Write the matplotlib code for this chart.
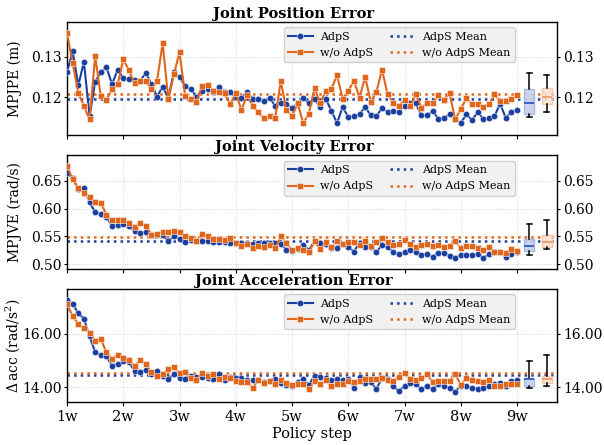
#!/usr/bin/env python3

import matplotlib
matplotlib.use("Agg")
import matplotlib.pyplot as plt
import numpy as np

plt.rcParams['font.family'] = ['DejaVu Serif']
plt.rcParams['mathtext.fontset'] = 'dejavuserif'

# policy steps, 1w .. 9w in steps of 0.1w
steps = np.round(np.arange(1.0, 9.0001, 0.1), 1)
xtick_vals = [1, 2, 3, 4, 5, 6, 7, 8, 9]
xtick_labels = ["1w", "2w", "3w", "4w", "5w", "6w", "7w", "8w", "9w"]

# joint position error (m)
pos_adps = [.1262, .1313, .1229, .1287, .1154, .1238, .1262, .1274, .1232, .1268,
            .1247, .1245, .1242, .1240, .1260, .1232, .1202, .1226, .1198, .1262,
            .1250, .1228, .1220, .1202, .1216, .1220, .1214, .1226, .1214, .1212,
            .1200, .1198, .1214, .1196, .1196, .1190, .1198, .1180, .1186, .1183,
            .1174, .1184, .1198, .1186, .1196, .1176, .1196, .1167, .1137, .1176,
            .1152, .1154, .1159, .1176, .1156, .1154, .1174, .1164, .1166, .1165,
            .1180, .1187, .1185, .1156, .1156, .1166, .1148, .1150, .1158, .1147,
            .1137, .1158, .1144, .1164, .1147, .1150, .1154, .1184, .1150, .1164,
            .1170]
pos_wo = [.1358, .1283, .1211, .1179, .1146, .1301, .1203, .1193, .1220, .1232,
          .1293, .1266, .1234, .1241, .1240, .1220, .1240, .1333, .1195, .1256,
          .1311, .1203, .1195, .1189, .1227, .1230, .1216, .1214, .1210, .1183,
          .1210, .1169, .1205, .1179, .1163, .1149, .1154, .1149, .1240, .1169,
          .1154, .1185, .1137, .1160, .1224, .1185, .1215, .1221, .1254, .1197,
          .1215, .1241, .1199, .1250, .1189, .1213, .1268, .1207, .1187, .1180,
          .1193, .1180, .1207, .1175, .1185, .1187, .1205, .1193, .1211, .1146,
          .1171, .1198, .1183, .1183, .1177, .1183, .1207, .1190, .1191, .1195,
          .1205]

# joint velocity error (rad/s)
vel_adps = [.6640, .6542, .6355, .6373, .6114, .5935, .5895, .5850, .5693, .5711,
            .5723, .5693, .5590, .5560, .5578, .5530, .5530, .5518, .5422, .5500,
            .5458, .5398, .5440, .5410, .5422, .5410, .5392, .5398, .5392, .5380,
            .5380, .5385, .5390, .5370, .5385, .5375, .5380, .5385, .5370, .5255,
            .5247, .5277, .5350, .5259, .5410, .5380, .5361, .5301, .5301, .5373,
            .5319, .5229, .5386, .5319, .5319, .5217, .5350, .5319, .5217, .5187,
            .5217, .5259, .5229, .5169, .5187, .5139, .5211, .5211, .5157, .5108,
            .5169, .5169, .5169, .5187, .5108, .5187, .5217, .5229, .5139, .5187,
            .5229]
vel_wo = [.6765, .6524, .6361, .6283, .6211, .6114, .6102, .5892, .5801, .5801,
          .5801, .5741, .5669, .5741, .5693, .5530, .5542, .5572, .5578, .5602,
          .5578, .5500, .5470, .5422, .5548, .5500, .5458, .5452, .5440, .5470,
          .5380, .5337, .5360, .5289, .5331, .5307, .5349, .5289, .5500, .5380,
          .5259, .5289, .5259, .5217, .5410, .5271, .5398, .5307, .5410, .5361,
          .5398, .5398, .5349, .5410, .5331, .5392, .5470, .5392, .5349, .5361,
          .5440, .5361, .5307, .5349, .5361, .5337, .5349, .5319, .5337, .5422,
          .5289, .5337, .5337, .5301, .5259, .5319, .5229, .5229, .5211, .5271,
          .5241]

# joint acceleration error (rad/s^2)
acc_adps = [17.27, 17.11, 16.75, 16.56, 15.90, 15.31, 15.21, 15.15, 14.81, 14.88,
            14.96, 14.93, 14.61, 14.56, 14.65, 14.49, 14.62, 14.42, 14.30, 14.50,
            14.36, 14.30, 14.42, 14.40, 14.38, 14.34, 14.30, 14.49, 14.28, 14.40,
            14.34, 14.34, 14.28, 14.28, 14.28, 14.21, 14.24, 14.30, 14.15, 14.09,
            14.03, 14.21, 14.30, 14.09, 14.43, 14.40, 14.34, 14.28, 14.30, 14.28,
            14.30, 13.99, 14.38, 14.15, 14.18, 13.94, 14.34, 14.30, 14.03, 13.86,
            14.05, 14.15, 14.11, 13.94, 14.03, 13.93, 14.11, 14.06, 13.96, 13.84,
            14.05, 14.03, 13.99, 13.94, 13.96, 14.03, 14.11, 14.15, 14.05, 14.25,
            14.28]
acc_wo = [17.09, 16.65, 16.36, 16.19, 16.03, 15.71, 15.80, 15.30, 15.06, 15.21,
          15.09, 15.00, 14.78, 15.03, 14.88, 14.55, 14.43, 14.49, 14.68, 14.75,
          14.53, 14.55, 14.34, 14.28, 14.53, 14.43, 14.49, 14.30, 14.38, 14.34,
          14.25, 14.21, 14.21, 13.96, 14.28, 14.15, 14.25, 14.13, 14.28, 14.15,
          14.09, 14.11, 14.11, 13.93, 14.25, 14.11, 14.28, 14.03, 14.11, 14.11,
          14.25, 14.21, 14.25, 14.30, 14.30, 14.31, 14.34, 14.28, 14.25, 14.40,
          14.53, 14.31, 14.28, 14.34, 14.49, 14.18, 14.25, 14.25, 14.25, 14.50,
          14.09, 14.34, 14.28, 14.24, 14.21, 14.28, 14.06, 14.06, 14.13, 14.13,
          14.11]

# box summaries at the right of each panel: [low whisker, q1, median, q3, high whisker]
pos_box_adps = [.1153, .1160, .1185, .1220, .1260]
pos_box_wo = [.1164, .1183, .1202, .1224, .1254]
vel_box_adps = [.5167, .5242, .5333, .5455, .5728]
vel_box_wo = [.5273, .5310, .5394, .5521, .5798]
acc_box_adps = [13.96, 14.06, 14.30, 14.36, 14.99]
acc_box_wo = [14.05, 14.15, 14.32, 14.42, 15.19]

titles = ["Joint Position Error", "Joint Velocity Error", "Joint Acceleration Error"]
ylabels = ["MPJPE (m)", "MPJVE (rad/s)", r"$\Delta\,$acc (rad/s$^2$)"]

blue = '#1a3f9e'
orange = '#e0661c'


def stats(vals, label):
    return dict(whislo=vals[0], q1=vals[1], med=vals[2], q3=vals[3], whishi=vals[4], label=label)


fig, axes = plt.subplots(3, 1, figsize=(6.04, 4.45), dpi=100, sharex=True)
fig.subplots_adjust(left=0.111, right=0.923, bottom=0.096, top=0.951, hspace=0.176)

panels = [
    (pos_adps, pos_wo, pos_box_adps, pos_box_wo, (0.1107, 0.1385), [0.12, 0.13], "%.2f"),
    (vel_adps, vel_wo, vel_box_adps, vel_box_wo, (0.4919, 0.6957), [0.50, 0.55, 0.60, 0.65], "%.2f"),
    (acc_adps, acc_wo, acc_box_adps, acc_box_wo, (13.44, 17.67), [14, 16], "%.2f"),
]

for ax, (a, w, ba, bw, ylim, yt, fmt), title, ylab in zip(axes, panels, titles, ylabels):
    ax.plot(steps, a, '-o', color=blue, lw=1.5, ms=4.6, mec=(1, 1, 1, 0.6), mew=0.6,
            label="AdpS", zorder=3)
    ax.plot(steps, w, '-s', color=orange, lw=1.5, ms=4.8, mec=(1, 1, 1, 0.6), mew=0.6,
            label="w/o AdpS", zorder=3)
    ax.axhline(np.mean(a), color=blue, ls=':', lw=1.8, label="AdpS Mean", zorder=2)
    ax.axhline(np.mean(w), color=orange, ls=':', lw=1.8, label="w/o AdpS Mean", zorder=2)

    bp = ax.bxp([stats(ba, "a"), stats(bw, "b")], positions=[9.22, 9.53], widths=0.18,
                showfliers=False, patch_artist=True, manage_ticks=False)
    for box, fc, ec in zip(bp['boxes'], ['#c5d0ec', '#fbe1cf'], ['#a4b4dc', '#efc4a6']):
        box.set_facecolor(fc)
        box.set_edgecolor(ec)
        box.set_alpha(0.9)
    for med, mc in zip(bp['medians'], ['#3b62c4', '#f2a06e']):
        med.set_color(mc)
        med.set_linewidth(1.4)
    for l in bp['whiskers'] + bp['caps']:
        l.set_color('black')
        l.set_linewidth(1.1)

    ax.set_ylim(*ylim)
    ax.set_yticks(yt)
    ax.yaxis.set_major_formatter(matplotlib.ticker.FormatStrFormatter(fmt))
    ax.tick_params(axis='y', right=True, labelright=True, labelsize=10, length=2.5, pad=1.5)
    ax.tick_params(axis='x', labelsize=10.5, length=3, pad=2.5)
    ax.grid(True, ls=':', lw=0.6, color='#cccccc')
    ax.set_axisbelow(True)
    ax.set_title(title, fontweight='bold', fontsize=10.5, pad=3, x=0.4626)
    ax.set_ylabel(ylab, fontsize=10)
    ax.yaxis.set_label_coords(-0.092, 0.5)
    for s in ax.spines.values():
        s.set_linewidth(1.0)
    ax.legend(ncol=2, loc='upper right', bbox_to_anchor=(0.925, 1.0), fontsize=8,
              facecolor='#f0f0f0', edgecolor='#cccccc', framealpha=0.9,
              columnspacing=1.5, handlelength=2.2, handletextpad=0.7, labelspacing=0.55)

axes[-1].set_xlim(1.0, 9.72)
axes[-1].set_xticks(xtick_vals)
axes[-1].set_xticklabels(xtick_labels)
axes[-1].set_xlabel("Policy step", fontsize=10.5, labelpad=2)

plt.savefig("out.png", dpi=100)
